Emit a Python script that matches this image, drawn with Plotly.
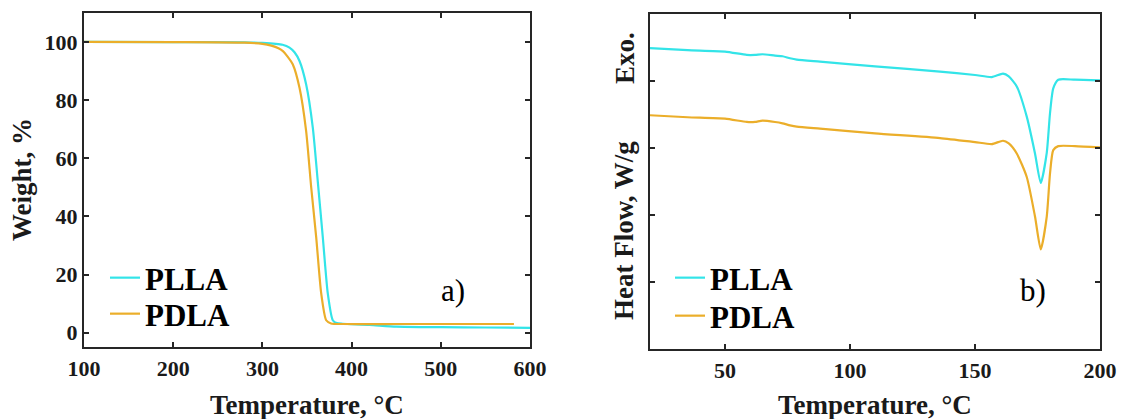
import plotly.graph_objects as go

# ---- TGA data (panel a) ----
tga_plla_T = [100, 200, 280, 300, 315, 322.6, 330.4, 336, 341.6, 349, 356.5, 362, 367.7, 373.3,
              378.9, 383.4, 390, 420, 450, 500, 550, 600]
tga_plla_W = [100, 99.9, 99.8, 99.6, 99.3, 99.0, 98.0, 96.4, 93.4, 85.4, 70.5, 52.3, 32.9, 13.5,
              4.3, 3.3, 3.1, 2.7, 2.1, 1.9, 1.8, 1.7]
tga_pdla_T = [100, 200, 280, 300, 310, 318, 323, 328, 334, 341.6, 349, 354.7, 360.3, 365.9,
              371.5, 377, 390, 450, 500, 582]
tga_pdla_W = [100, 99.9, 99.7, 99.3, 98.7, 97.8, 96.8, 95.0, 92.3, 84.2, 69.4, 50.0, 32.9, 13.6,
              4.3, 3.2, 3.0, 3.0, 3.0, 3.0]

# ---- DSC data (panel b) ----
dsc_plla_T = [20, 35, 50, 58.7, 62, 65, 70, 73, 76, 78.7, 88, 110, 136, 150, 156.7, 161.2,
              163.5, 166.7, 170.7, 174, 176.3, 178.7, 180, 181.3, 183.3, 190, 200]
dsc_plla_V = [4.49, 4.46, 4.44, 4.39, 4.39, 4.40, 4.38, 4.37, 4.34, 4.32, 4.29, 4.22, 4.14, 4.09,
              4.06, 4.11, 4.07, 3.92, 3.47, 2.92, 2.48, 2.93, 3.52, 3.89, 4.02, 4.02, 4.01]
dsc_pdla_T = [20, 35, 50, 58.7, 62, 65, 70, 73, 76, 78.7, 88, 110, 136, 150, 156.7, 161.2,
              163.5, 166.7, 170.7, 174, 176.3, 178.7, 180, 181.3, 183.3, 190, 200]
dsc_pdla_V = [3.49, 3.46, 3.44, 3.39, 3.39, 3.41, 3.39, 3.37, 3.34, 3.32, 3.29, 3.22, 3.15, 3.09,
              3.06, 3.11, 3.07, 2.92, 2.57, 1.98, 1.49, 1.98, 2.62, 2.97, 3.03, 3.03, 3.01]

x1_ticks = [100, 200, 300, 400, 500, 600]
y1_ticks = [0, 20, 40, 60, 80, 100]
x2_ticks = [50, 100, 150, 200]
y2_ticks = [1, 2, 3, 4]

CYAN = "#33E4E8"
ORANGE = "#EBAE2A"
AXC = "#262626"
FONT = "Liberation Serif"
W, H = 1123, 419

fig = go.Figure()
series = [
    (tga_plla_T, tga_plla_W, "PLLA", CYAN, "x", "y", "legend"),
    (tga_pdla_T, tga_pdla_W, "PDLA", ORANGE, "x", "y", "legend2"),
    (dsc_plla_T, dsc_plla_V, "PLLA", CYAN, "x2", "y2", "legend3"),
    (dsc_pdla_T, dsc_pdla_V, "PDLA", ORANGE, "x2", "y2", "legend4"),
]
for xs, ys, name, col, xa, ya, lg in series:
    fig.add_trace(go.Scatter(x=xs, y=ys, name=name, mode="lines",
                             line=dict(color=col, width=2.2, shape="spline", smoothing=0.6),
                             xaxis=xa, yaxis=ya, legend=lg))

tickfont = dict(family=FONT, size=22, color="#1a1a1a", weight="bold")
axcommon = dict(showline=True, linecolor=AXC, linewidth=2, mirror="ticks", ticks="inside",
                ticklen=5, tickwidth=1.5, tickcolor=AXC, showgrid=False, zeroline=False,
                tickfont=tickfont, automargin=False)

legfont = dict(family=FONT, size=31, color="black", weight="bold")


def leg(xpx, ytop):
    return dict(x=xpx / W, y=1 - ytop / H, xanchor="left", yanchor="top",
                bgcolor="rgba(0,0,0,0)", font=legfont, borderwidth=0)


fig.update_layout(
    width=W, height=H, autosize=False,
    margin=dict(l=0, r=0, t=0, b=0, autoexpand=False),
    paper_bgcolor="white", plot_bgcolor="white",
    xaxis=dict(domain=[84 / W, 530 / W], range=[100, 600], tickvals=x1_ticks, anchor="y", **axcommon),
    yaxis=dict(domain=[1 - 347.3 / H, 1 - 12.7 / H], range=[-5, 110], tickvals=y1_ticks, anchor="x",
               **axcommon),
    xaxis2=dict(domain=[650 / W, 1100 / W], range=[20, 200], tickvals=x2_ticks, anchor="y2", **axcommon),
    yaxis2=dict(domain=[1 - 349.3 / H, 1 - 14 / H], range=[0, 5], tickvals=y2_ticks, anchor="x2",
                showticklabels=False, **axcommon),
    legend=leg(105, 251),
    legend2=leg(105, 287),
    legend3=leg(670, 251),
    legend4=leg(670, 289),
    showlegend=True,
)

title_font = dict(family=FONT, size=27, color="#1a1a1a", weight="bold")
annotations = [
    dict(text="Temperature, °C", x=307 / W, y=1 - 405 / H, xref="paper", yref="paper",
         xanchor="center", yanchor="middle", showarrow=False, font=title_font),
    dict(text="Temperature, °C", x=875 / W, y=1 - 405 / H, xref="paper", yref="paper",
         xanchor="center", yanchor="middle", showarrow=False, font=title_font),
    dict(text="Weight, %", x=22 / W, y=1 - 180 / H, xref="paper", yref="paper", textangle=-90,
         xanchor="center", yanchor="middle", showarrow=False, font=title_font),
    dict(text="Heat Flow, W/g", x=624 / W, y=1 - 231 / H, xref="paper", yref="paper", textangle=-90,
         xanchor="center", yanchor="middle", showarrow=False, font=title_font),
    dict(text="Exo.", x=625 / W, y=1 - 58 / H, xref="paper", yref="paper", textangle=-90,
         xanchor="center", yanchor="middle", showarrow=False, font=title_font),
    dict(text="a)", x=453 / W, y=1 - 290 / H, xref="paper", yref="paper",
         xanchor="center", yanchor="middle", showarrow=False,
         font=dict(family=FONT, size=31, color="black")),
    dict(text="b)", x=1033 / W, y=1 - 290 / H, xref="paper", yref="paper",
         xanchor="center", yanchor="middle", showarrow=False,
         font=dict(family=FONT, size=31, color="black")),
]
fig.update_layout(annotations=annotations)

fig.write_html(
    "out.html",
    config={"responsive": False, "displayModeBar": False},
    post_script="document.body.style.margin='0';document.body.style.padding='0';"
                "document.body.style.overflow='hidden';",
)
